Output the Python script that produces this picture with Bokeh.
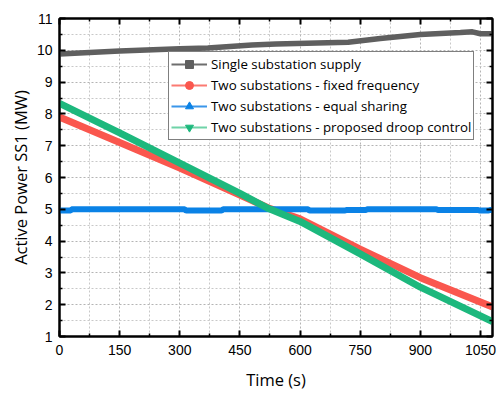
from bokeh.plotting import figure
from bokeh.models import (FixedTicker, LinearAxis, Legend, LegendItem, Range1d)
from bokeh.embed import file_html
from bokeh.resources import INLINE

# ---- data ----
t_single = [0, 150, 300, 370, 480, 540, 720, 800, 900, 1000, 1030, 1050, 1080]
p_single = [9.88, 9.98, 10.05, 10.07, 10.17, 10.2, 10.25, 10.37, 10.5, 10.56, 10.58, 10.52, 10.52]

t_fixed = [0, 150, 300, 450, 520, 600, 750, 900, 1080]
p_fixed = [7.9, 7.1, 6.3, 5.45, 5.05, 4.7, 3.75, 2.85, 1.93]

t_equal = [0, 28, 30, 312, 316, 404, 408, 620, 624, 712, 716, 764, 768, 940, 944, 1044, 1048, 1070, 1074, 1080]
p_equal = [4.96, 4.96, 5.0, 5.0, 4.96, 4.96, 5.0, 5.0, 4.96, 4.96, 4.98, 4.98, 5.0, 5.0, 4.98, 4.98, 4.96, 4.96, 4.98, 4.98]

t_droop = [0, 150, 300, 450, 520, 600, 750, 900, 1080]
p_droop = [8.33, 7.4, 6.45, 5.5, 5.03, 4.62, 3.6, 2.55, 1.47]

labels = ["Single substation supply",
          "Two substations - fixed frequency",
          "Two substations - equal sharing",
          "Two substations - proposed droop control"]
colors = ["#5f5f5f", "#fa574e", "#0a82e6", "#1db87d"]
legend_colors = ["#6e6e6e", "#fb7a72", "#3a96ea", "#6fd3a8"]
markers = ["square", "circle", "triangle", "inverted_triangle"]

x_major = [0, 150, 300, 450, 600, 750, 900, 1050]
x_minor = [75, 225, 375, 525, 675, 825, 975]
y_major = list(range(1, 12))
y_minor = [1.5 + i for i in range(10)]

p = figure(width=504, height=393, output_backend="svg", toolbar_location=None,
           x_range=Range1d(0, 1080), y_range=Range1d(1, 11),
           min_border_left=59, min_border_right=12, min_border_top=18, min_border_bottom=56,
           x_axis_label="Time (s)", y_axis_label="Active Power SS1 (MW)")
p.background_fill_color = "white"
p.border_fill_color = "white"
p.outline_line_color = "black"
p.outline_line_width = 2
# off-screen range used only for the legend sample glyphs
p.extra_y_ranges = {"legend_only": Range1d(1000, 1010)}

def style_axis(ax, ticks, minor, show_labels=True):
    ax.ticker = FixedTicker(ticks=ticks, minor_ticks=minor)
    ax.axis_line_color = "black"
    ax.axis_line_width = 2
    ax.major_tick_in = 6
    ax.major_tick_out = 0
    ax.minor_tick_in = 3
    ax.minor_tick_out = 0
    ax.major_tick_line_width = 2
    ax.minor_tick_line_width = 1.5
    ax.major_tick_line_color = "black"
    ax.minor_tick_line_color = "black"
    if show_labels:
        ax.major_label_text_font = "Liberation Sans"
        ax.major_label_text_font_size = "14px"
        ax.major_label_text_color = "black"
        ax.axis_label_text_font = "Open Sans"
        ax.axis_label_text_font_size = "16.5px"
        ax.axis_label_text_font_style = "normal"
        ax.axis_label_text_color = "black"
    else:
        ax.major_label_text_font_size = "1px"
        ax.major_label_text_color = None
        ax.major_label_standoff = 0

style_axis(p.xaxis[0], x_major, x_minor)
style_axis(p.yaxis[0], y_major, y_minor)
p.xaxis[0].major_label_standoff = 8
p.yaxis[0].major_label_standoff = 7
p.xaxis[0].axis_label_standoff = 10
p.yaxis[0].axis_label_standoff = 2

top_ax = LinearAxis()
style_axis(top_ax, x_major, x_minor, show_labels=False)
p.add_layout(top_ax, "above")
right_ax = LinearAxis()
style_axis(right_ax, y_major, y_minor, show_labels=False)
p.add_layout(right_ax, "right")

for g, ticks, minor in ((p.xgrid[0], x_major, x_minor), (p.ygrid[0], y_major, y_minor)):
    g.ticker = FixedTicker(ticks=ticks, minor_ticks=minor)
    g.grid_line_color = "#b4b4b4"
    g.grid_line_dash = "2 2"
    g.grid_line_width = 1
    g.minor_grid_line_color = "#c8c8c8"
    g.minor_grid_line_dash = "2 2"
    g.minor_grid_line_width = 1

series = [(t_single, p_single, 5.5), (t_fixed, p_fixed, 7),
          (t_equal, p_equal, 6), (t_droop, p_droop, 7)]
for (tx, py, lw), c in zip(series, colors):
    p.line(tx, py, color=c, line_width=lw)

items = []
for (tx, py, lw), lab, lc, mk, c in zip(series, labels, legend_colors, markers, colors):
    lr = p.line(tx[:2], py[:2], color=lc, line_width=2, y_range_name="legend_only")
    sr = p.scatter(tx[:1], py[:1], marker=mk, size=5, color=c, y_range_name="legend_only")
    items.append(LegendItem(label=lab, renderers=[lr, sr]))

legend = Legend(items=items, location=(109, 196))
legend.border_line_color = "black"
legend.border_line_width = 1
legend.background_fill_color = "white"
legend.background_fill_alpha = 1
legend.label_text_font = "Open Sans"
legend.label_text_font_size = "13.3px"
legend.label_text_color = "black"
legend.glyph_width = 36
legend.glyph_height = 20
legend.label_height = 20
legend.label_standoff = 4
legend.spacing = 1
legend.padding = 2
legend.margin = 0
p.add_layout(legend, "center")

open("out.html", "w").write(file_html(p, INLINE))
